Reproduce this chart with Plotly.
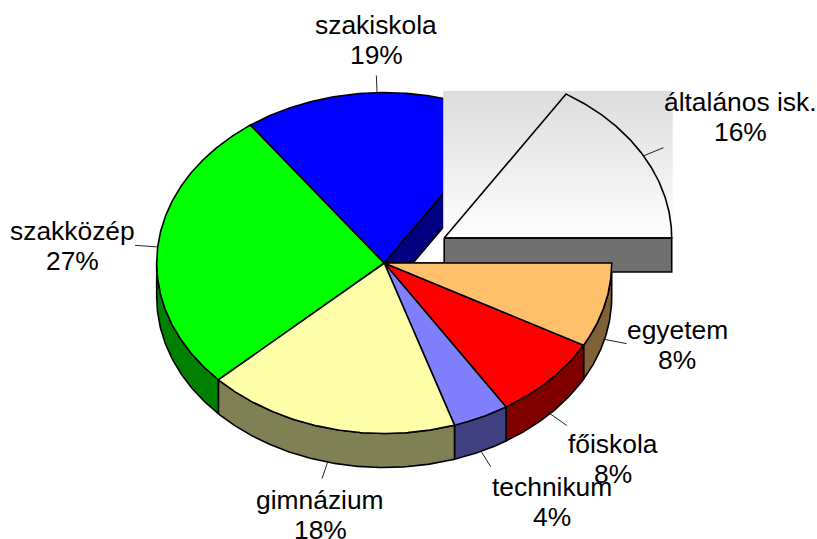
import math
import plotly.graph_objects as go

categories = ["egyetem", "főiskola", "technikum", "gimnázium", "szakközép", "szakiskola", "általános isk."]
percent_values = [8, 8, 4, 18, 27, 19, 16]
top_colors = ["#ffc06c", "#ff0000", "#8080ff", "#ffffaa", "#00ff00", "#0000ff", None]
side_colors = ["#806036", "#800000", "#404080", "#808055", "#008000", "#000080", "#707070"]
label_x = [677, 613, 552, 320, 72.5, 376, 740]
label_y = [330, 444, 487, 500, 231, 25, 102]

W, H = 817, 539
CX, CY, RX, RY, DEPTH = 384.2, 263.0, 227.5, 170.5, 34.0
EXPLODE = {"általános isk.": (60.0, -25.0)}
FONT_SIZE = 26.4
LINE_GAP = 29.5

fig = go.Figure()


def pt(t, cx=CX, cy=CY, f=1.0, dz=0.0):
    a = math.radians(t)
    return cx + RX * f * math.cos(a), cy + RY * f * math.sin(a) + dz


def arc(t0, t1, cx=CX, cy=CY, dz=0.0):
    n = max(2, int(abs(t1 - t0) * 2))
    return [pt(t0 + (t1 - t0) * i / n, cx, cy, 1.0, dz) for i in range(n + 1)]


def poly(points, fill, width=1.6, **extra):
    xs = [p[0] for p in points] + [points[0][0]]
    ys = [p[1] for p in points] + [points[0][1]]
    kw = dict(fill="toself", fillcolor=fill) if fill else {}
    kw.update(extra)
    fig.add_trace(go.Scatter(x=xs, y=ys, mode="lines", hoverinfo="skip",
                             line=dict(color="black", width=width), **kw))


def line(a, b, width=1.0, color="#222222"):
    fig.add_trace(go.Scatter(x=[a[0], b[0]], y=[a[1], b[1]], mode="lines", hoverinfo="skip",
                             line=dict(color=color, width=width)))


# slice angles
angles = []
t = 0.0
total = sum(percent_values)
for v in percent_values:
    angles.append((t, t + 360.0 * v / total))
    t += 360.0 * v / total

items = list(zip(categories, percent_values, top_colors, side_colors, angles))

# inner walls left behind by the exploded slice
for i, (name, v, top, side, (t0, t1)) in enumerate(items):
    if name in EXPLODE:
        prev_side = items[i - 1][3]
        e = pt(t0)
        poly([(CX, CY), e, (e[0], e[1] + DEPTH), (CX, CY + DEPTH)], prev_side)

# rim of the pie (front half only)
for name, v, top, side, (t0, t1) in items:
    if name in EXPLODE:
        continue
    a, b = max(t0, 0.0), min(t1, 180.0)
    if a < b:
        upper = arc(a, b)
        lower = arc(b, a, dz=DEPTH)
        poly(upper + lower, side)

# tops
for name, v, top, side, (t0, t1) in items:
    if name in EXPLODE:
        continue
    poly([(CX, CY)] + arc(t0, t1), top)

# exploded slice with its grey gradient box and flat side
for name, v, top, side, (t0, t1) in items:
    if name not in EXPLODE:
        continue
    dx, dy = EXPLODE[name]
    ex, ey = CX + dx, CY + dy
    pts = [(ex, ey)] + arc(t0, t1, ex, ey)
    x0, x1 = min(p[0] for p in pts), max(p[0] for p in pts)
    y0, y1 = min(p[1] for p in pts) - 3, max(p[1] for p in pts)
    fig.add_trace(go.Scatter(
        x=[x0 - 1, x1 + 1, x1 + 1, x0 - 1, x0 - 1], y=[y0, y0, y1, y1, y0],
        mode="lines", hoverinfo="skip", line=dict(width=0, color="rgba(0,0,0,0)"),
        fill="toself",
        fillgradient=dict(type="vertical", start=y1, stop=y0,
                          colorscale=[[0, "#ffffff"], [1, "#dcdcdc"]])))
    poly([(x0, y1), (x1, y1), (x1, y1 + DEPTH), (x0, y1 + DEPTH)], side)
    poly(pts, None)

# egyetem top is painted over the exploded slice's flat side
name, v, top, side, (t0, t1) = items[0]
poly([(CX, CY)] + arc(t0, t1), top)

# leader lines and labels
annotations = []
for i, (name, v, top, side, (t0, t1)) in enumerate(items):
    mid = (t0 + t1) / 2
    dx, dy = EXPLODE.get(name, (0.0, 0.0))
    dz = DEPTH if 0 < mid < 180 else 0.0
    line(pt(mid, CX + dx, CY + dy, 1.0, dz), pt(mid, CX + dx, CY + dy, 1.1, dz))
    for text, yy in ((name, label_y[i]), (f"{v}%", label_y[i] + LINE_GAP)):
        annotations.append(dict(x=label_x[i], y=yy, text=text, showarrow=False,
                                xanchor="center", yanchor="middle",
                                font=dict(family="Liberation Sans, Arial, sans-serif",
                                          size=FONT_SIZE, color="black")))

fig.update_layout(
    width=W, height=H, autosize=False, showlegend=False,
    paper_bgcolor="white", plot_bgcolor="white",
    margin=dict(l=0, r=0, t=0, b=0),
    xaxis=dict(range=[0, W], visible=False, fixedrange=True),
    yaxis=dict(range=[H, 0], visible=False, fixedrange=True),
    annotations=annotations,
)
fig.write_html("out.html", config={"displayModeBar": False},
               post_script="document.body.style.margin='0';document.documentElement.style.overflow='hidden';")
